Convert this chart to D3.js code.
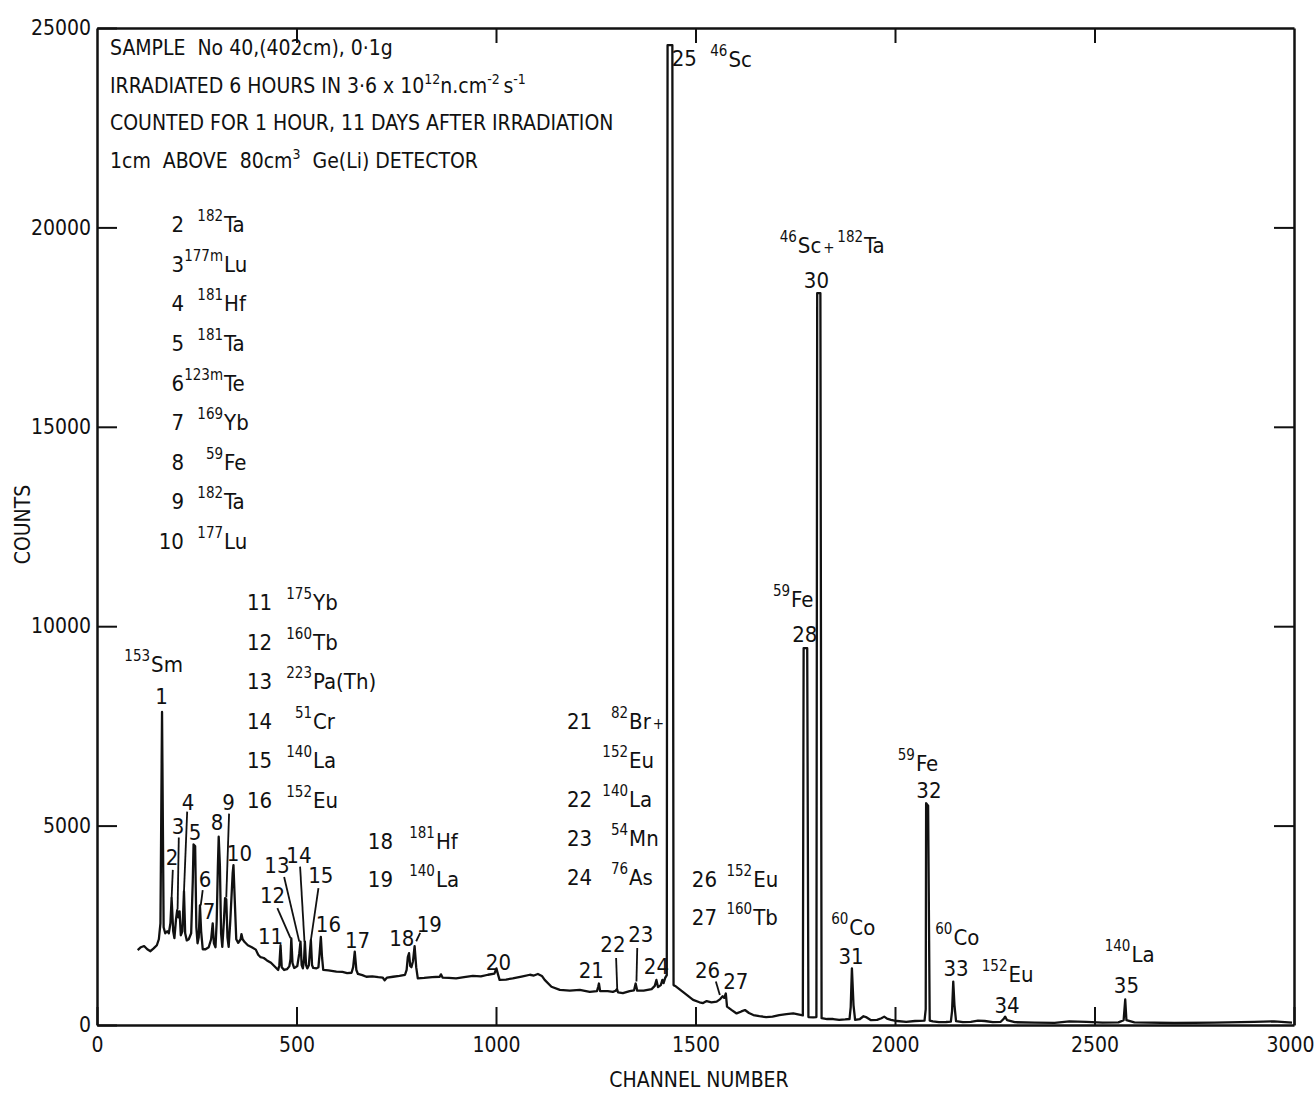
<!DOCTYPE html>
<html>
<head>
<meta charset="utf-8">
<script src="https://cdn.jsdelivr.net/npm/d3@7"></script>
<style>
  body { margin: 0; background: #fff }
  svg text { font-family: "Liberation Sans Narrow", "DejaVu Sans Condensed", "DejaVu Sans", sans-serif; font-stretch: condensed; fill: #111 }
</style>
</head>
<body>
<svg id="chart" width="1316" height="1093"></svg>
<script>
//
// Data
//

// gamma spectrum, [channel, counts]
var spectrum = [
  [102,1880],[110,1950],[118,1980],[126,1900],[134,1850],[142,1920],[150,2000],[155,2150],[159,2550],[163,7850],
  [167,2450],[171,2300],[176,2350],[180,2300],[184,2550],[187,3180],[191,2350],[194,2180],[198,2650],[201,2880],
  [204,2700],[207,2850],[210,2250],[214,2350],[218,3350],[221,2300],[225,2120],[230,2150],[236,2300],[240,3600],
  [242,4530],[246,4480],[249,2450],[252,2050],[255,2200],[258,3000],[261,2350],[265,1900],[272,1900],[280,1950],
  [286,2150],[290,2550],[293,2050],[297,1950],[300,2600],[303,4000],[305,4720],[308,4000],[311,2300],[314,1960],
  [318,2600],[321,3180],[324,3150],[327,2200],[330,1960],[334,2600],[340,3800],[342,4010],[345,3200],[349,2150],
  [354,2060],[360,2150],[362,2280],[365,2150],[370,2080],[378,2000],[388,1950],[398,1890],[404,1760],[410,1700],
  [418,1680],[426,1620],[436,1560],[446,1460],[454,1380],[457,1500],[460,2000],[463,1450],[469,1380],[476,1400],
  [482,1470],[485,1650],[487,2170],[490,1550],[494,1430],[498,1450],[502,1480],[507,1800],[510,2090],[513,1500],
  [516,1420],[519,1650],[521,2090],[524,1500],[527,1420],[531,1500],[534,1900],[536,2130],[539,1500],[542,1430],
  [550,1420],[555,1450],[558,1800],[561,2210],[564,1700],[567,1380],[580,1370],[600,1340],[615,1330],[627,1300],
  [638,1310],[642,1450],[646,1840],[650,1380],[654,1280],[665,1250],[675,1210],[690,1220],[705,1200],[716,1190],
  [721,1120],[727,1190],[742,1210],[758,1230],[772,1260],[776,1380],[779,1700],[782,1800],[785,1480],[788,1450],
  [792,1600],[796,1980],[800,1450],[804,1170],[820,1180],[840,1200],[859,1210],[862,1270],[866,1190],[882,1180],
  [900,1170],[920,1200],[942,1230],[962,1220],[980,1260],[996,1290],[1001,1420],[1005,1270],[1009,1130],[1025,1140],
  [1042,1170],[1067,1220],[1085,1260],[1095,1240],[1105,1280],[1115,1230],[1122,1130],[1139,960],[1160,880],[1185,860],
  [1210,880],[1235,830],[1253,850],[1256,950],[1258,1040],[1261,850],[1280,850],[1293,830],[1300,860],[1303,900],
  [1306,820],[1318,800],[1335,850],[1346,870],[1350,1040],[1354,860],[1370,860],[1390,900],[1398,980],[1402,1130],
  [1406,950],[1413,1000],[1417,1130],[1420,1050],[1424,1180],[1428,1250],[1430,24570],[1442,24570],[1445,1000],[1449,980],
  [1470,820],[1494,630],[1510,570],[1519,550],[1528,600],[1540,570],[1553,585],[1562,650],[1568,720],[1572,680],
  [1576,790],[1579,460],[1590,380],[1603,290],[1615,340],[1624,375],[1634,300],[1645,250],[1660,220],[1677,200],
  [1693,210],[1710,250],[1728,270],[1745,290],[1760,260],[1769,240],[1771,9450],[1780,9450],[1783,200],[1795,190],
  [1803,200],[1805,18350],[1813,18350],[1816,170],[1830,150],[1845,150],[1860,130],[1875,140],[1886,150],[1889,450],
  [1892,1420],[1896,500],[1900,130],[1912,150],[1921,220],[1929,190],[1940,120],[1955,130],[1966,170],[1973,210],
  [1980,160],[1990,130],[2005,100],[2028,80],[2050,100],[2074,110],[2077,400],[2078,5560],[2083,5500],[2087,110],
  [2095,90],[2110,70],[2128,75],[2140,85],[2143,350],[2146,1090],[2149,500],[2153,100],[2170,70],[2190,80],
  [2208,110],[2225,100],[2245,70],[2265,80],[2272,150],[2276,210],[2281,120],[2300,70],[2350,60],[2400,55],
  [2437,90],[2480,80],[2520,60],[2560,65],[2573,120],[2577,640],[2580,120],[2600,65],[2700,50],[2800,60],
  [2900,80],[2950,90],[2995,60]
]

// peak numbers: [label, channel, counts] (text baseline)
var peakNumbers = [
  ['1',162,8060],['2',188,4000],['3',203,4780],['4',228,5380],['5',246,4650],['6',271,3470],['7',281,2650],
  ['8',301,4880],['9',330,5400],['10',357,4120],['11',435,2040],['12',440,3050],['13',451,3820],['14',506,4050],
  ['15',561,3550],['16',580,2320],['17',653,1940],['18',764,1970],['19',833,2340],['20',1006,1370],['21',1239,1170],
  ['22',1293,1840],['23',1363,2070],['24',1402,1290],['25',1472,24040],['26',1530,1190],['27',1601,915],
  ['28',1774,9610],['30',1803,18490],['31',1890,1520],['32',2085,5700],['33',2153,1220],['34',2281,290],['35',2580,790]
]

// leader lines from a number to its peak: [ch1, counts1, ch2, counts2]
var leaders = [
  [190,3890,187,3180],[205,4700,202,2900],[226,5350,218,3340],[265,3380,260,3000],[331,5300,324,3200],
  [452,2930,485,2180],[469,3710,507,2090],[509,3970,520,2090],[555,3430,536,2130],[810,2310,800,2100],
  [1301,1680,1304,860],[1354,1930,1352,1090],[1551,1090,1561,750]
]

// isotope tags over peaks: [mass, element, channel, counts]
var isotopeTags = [
  ['153','Sm',133,8860],['46','Sc',1580,24020],['46','Sc+',1754,19350],['182','Ta',1920,19350],
  ['59','Fe',1737,10490],['60','Co',1883,2260],['59','Fe',2050,6380],['60','Co',2144,2010],
  ['152','Eu',2282,1080],['140','La',2590,1580]
]

// identification lists: [number, mass, element]
var legendA = [
  ['2','182','Ta'],['3','177m','Lu'],['4','181','Hf'],['5','181','Ta'],['6','123m','Te'],
  ['7','169','Yb'],['8','59','Fe'],['9','182','Ta'],['10','177','Lu']
]
var legendB = [
  ['11','175','Yb'],['12','160','Tb'],['13','223','Pa(Th)'],['14','51','Cr'],['15','140','La'],['16','152','Eu']
]
var legendC = [['18','181','Hf'],['19','140','La']]
var legendD = [['21','82','Br+'],['','152','Eu'],['22','140','La'],['23','54','Mn'],['24','76','As']]
var legendE = [['26','152','Eu'],['27','160','Tb']]

// header text, segments of [text, isSuperscript]
var header = [
  [['SAMPLE  No 40,(402cm), 0\u00b71g', 0]],
  [['IRRADIATED 6 HOURS IN 3\u00b76 x 10', 0], ['12', 1], ['n.cm', 0], ['-2', 1], ['\u2009s', 0], ['-1', 1]],
  [['COUNTED FOR 1 HOUR, 11 DAYS AFTER IRRADIATION', 0]],
  [['1cm  ABOVE  80cm', 0], ['3', 1], ['  Ge(Li) DETECTOR', 0]]
]

var xTicks = [0, 500, 1000, 1500, 2000, 2500, 3000]
var yTicks = [0, 5000, 10000, 15000, 20000, 25000]

//
// Layout
//

var svg = d3.select('#chart')
var plotLeft = 97, plotRight = 1294, plotTop = 28, plotBottom = 1025
var fontSize = 22, supSize = 15

var x = d3.scaleLinear().domain([0, 3000]).range([plotLeft, plotRight])
var y = d3.scaleLinear().domain([0, 25000]).range([plotBottom, plotTop])

//
// Axes and frame
//

function styleAxis(g) {
  g.attr('font-family', null).attr('font-size', null)
  g.selectAll('.domain').attr('stroke', '#111').attr('stroke-width', 2.5)
  g.selectAll('.tick line').attr('stroke', '#111').attr('stroke-width', 2)
  g.selectAll('.tick text').attr('font-size', 21).attr('fill', '#111')
}

var xAxis = svg.append('g')
  .attr('transform', 'translate(0,' + plotBottom + ')')
  .call(d3.axisBottom(x).tickValues(xTicks).tickSize(-18).tickSizeOuter(0).tickPadding(12).tickFormat(d3.format('d')))
  .call(styleAxis)

// keep the last label inside the page
xAxis.selectAll('.tick text').filter(function(d) { return d === 3000 }).attr('dx', -4)

svg.append('g')
  .attr('transform', 'translate(0,' + plotTop + ')')
  .call(d3.axisTop(x).tickValues(xTicks.slice(1, -1)).tickSize(-15).tickSizeOuter(0).tickFormat(''))
  .call(styleAxis)

svg.append('g')
  .attr('transform', 'translate(' + plotLeft + ',0)')
  .call(d3.axisLeft(y).tickValues(yTicks).tickSize(-20).tickSizeOuter(0).tickPadding(6).tickFormat(d3.format('d')))
  .call(styleAxis)

svg.append('g')
  .attr('transform', 'translate(' + plotRight + ',0)')
  .call(d3.axisRight(y).tickValues(yTicks.slice(1, -1)).tickSize(-20).tickSizeOuter(0).tickFormat(''))
  .call(styleAxis)

svg.append('text')
  .attr('x', 699).attr('y', 1087)
  .attr('text-anchor', 'middle').attr('font-size', 21)
  .text('CHANNEL NUMBER')

svg.append('text')
  .attr('transform', 'translate(30,' + (y(12500) - 2) + ') rotate(-90)')
  .attr('text-anchor', 'middle').attr('font-size', 21)
  .text('COUNTS')

//
// Spectrum
//

var line = d3.line()
  .x(function(d) { return x(d[0]) })
  .y(function(d) { return y(d[1]) })

svg.append('path')
  .datum(spectrum)
  .attr('d', line)
  .attr('fill', 'none')
  .attr('stroke', '#111')
  .attr('stroke-width', 2.3)
  .attr('stroke-linejoin', 'round')

svg.selectAll('line.leader')
  .data(leaders)
  .enter().append('line')
  .attr('class', 'leader')
  .attr('x1', function(d) { return x(d[0]) })
  .attr('y1', function(d) { return y(d[1]) })
  .attr('x2', function(d) { return x(d[2]) })
  .attr('y2', function(d) { return y(d[3]) })
  .attr('stroke', '#111')
  .attr('stroke-width', 1.8)

//
// Labels
//

svg.selectAll('text.peak')
  .data(peakNumbers)
  .enter().append('text')
  .attr('class', 'peak')
  .attr('x', function(d) { return x(d[1]) })
  .attr('y', function(d) { return y(d[2]) })
  .attr('text-anchor', 'middle')
  .attr('font-size', fontSize)
  .text(function(d) { return d[0] })

// superscript mass ends at px, element starts there
function isotope(px, py, mass, el) {
  svg.append('text')
    .attr('x', px).attr('y', py - 11)
    .attr('text-anchor', 'end')
    .attr('font-size', supSize)
    .text(mass)
  var t = svg.append('text')
    .attr('x', px + 1).attr('y', py)
    .attr('font-size', fontSize)
  if (el.slice(-1) === '+') {
    t.append('tspan').text(el.slice(0, -1))
    t.append('tspan').attr('font-size', 15).attr('dx', 2).text('+')
  } else {
    t.text(el)
  }
}

isotopeTags.forEach(function(d) {
  isotope(x(d[2]), y(d[3]), d[0], d[1])
})

// a list block: numbers end at numCh, masses end at junctionCh
function legendBlock(rows, numCh, junctionCh, firstCounts, step) {
  rows.forEach(function(r, i) {
    var py = y(firstCounts) + i * step
    svg.append('text')
      .attr('x', x(numCh)).attr('y', py)
      .attr('text-anchor', 'end')
      .attr('font-size', fontSize)
      .text(r[0])
    isotope(x(junctionCh), py, r[1], r[2])
  })
}

legendBlock(legendA, 218, 316, 19880, 39.6)
legendBlock(legendB, 439, 539, 10400, 39.5)
legendBlock(legendC, 742, 847, 4425, 38.5)
legendBlock(legendD, 1241, 1331, 7430, 39)
legendBlock(legendE, 1554, 1642, 3460, 38)

//
// Header
//

header.forEach(function(segs, i) {
  var t = svg.append('text')
    .attr('x', plotLeft + 13)
    .attr('y', plotTop + 27 + i * 37.5)
    .attr('font-size', 21)
    .style('white-space', 'pre')
  var lift = 0
  segs.forEach(function(s) {
    var shift = s[1] ? -9 : 0
    t.append('tspan')
      .attr('dy', shift - lift)
      .attr('font-size', s[1] ? 14 : 21)
      .text(s[0])
    lift = shift
  })
})
</script>
</body>
</html>
